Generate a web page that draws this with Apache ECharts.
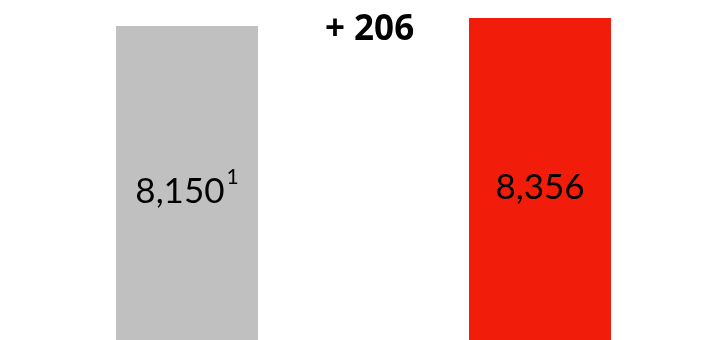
<!DOCTYPE html>
<html><head><meta charset="utf-8">
<script src="https://cdn.jsdelivr.net/npm/echarts@6/dist/echarts.min.js"></script>
<style>html,body{margin:0;padding:0;background:#fff}#c{width:710px;height:340px}</style>
</head><body><div id="c"></div>
<script>
const categories = ['A', 'B'];
const values = [8150, 8356];
const footnotes = ['1', ''];
const colors = ['#C0C0C0', '#F21C0A'];

const chart = echarts.init(document.getElementById('c'));
const diff = values[1] - values[0];
const fmt = v => v.toLocaleString('en-US');
chart.setOption({
  animation: false,
  grid: {left: 187, right: 170, top: 0, bottom: 0},
  xAxis: {type: 'category', data: categories, show: false, boundaryGap: false},
  yAxis: {type: 'value', min: 0, max: 8823, show: false},
  graphic: [{
    type: 'text', left: 325, top: 13,
    style: {text: '+ ' + diff, font: 'bold 35px "Open Sans"', fill: '#000'}
  }],
  series: [{
    type: 'bar', barWidth: 142,
    data: values.map((v, i) => ({value: v, itemStyle: {color: colors[i]}})),
    label: {
      show: true, position: 'inside', offset: [0, 6],
      formatter: p => '{v|' + fmt(p.value) + '}' + (footnotes[p.dataIndex] ? '{s|' + footnotes[p.dataIndex] + '}' : ''),
      rich: {
        v: {fontFamily: 'Lato', fontSize: 35, color: '#000', lineHeight: 40, verticalAlign: 'bottom'},
        s: {fontFamily: 'Lato', fontSize: 21, color: '#000', verticalAlign: 'bottom', lineHeight: 20, padding: [0, 0, 21, 2]}
      }
    }
  }]
});
</script></body></html>
